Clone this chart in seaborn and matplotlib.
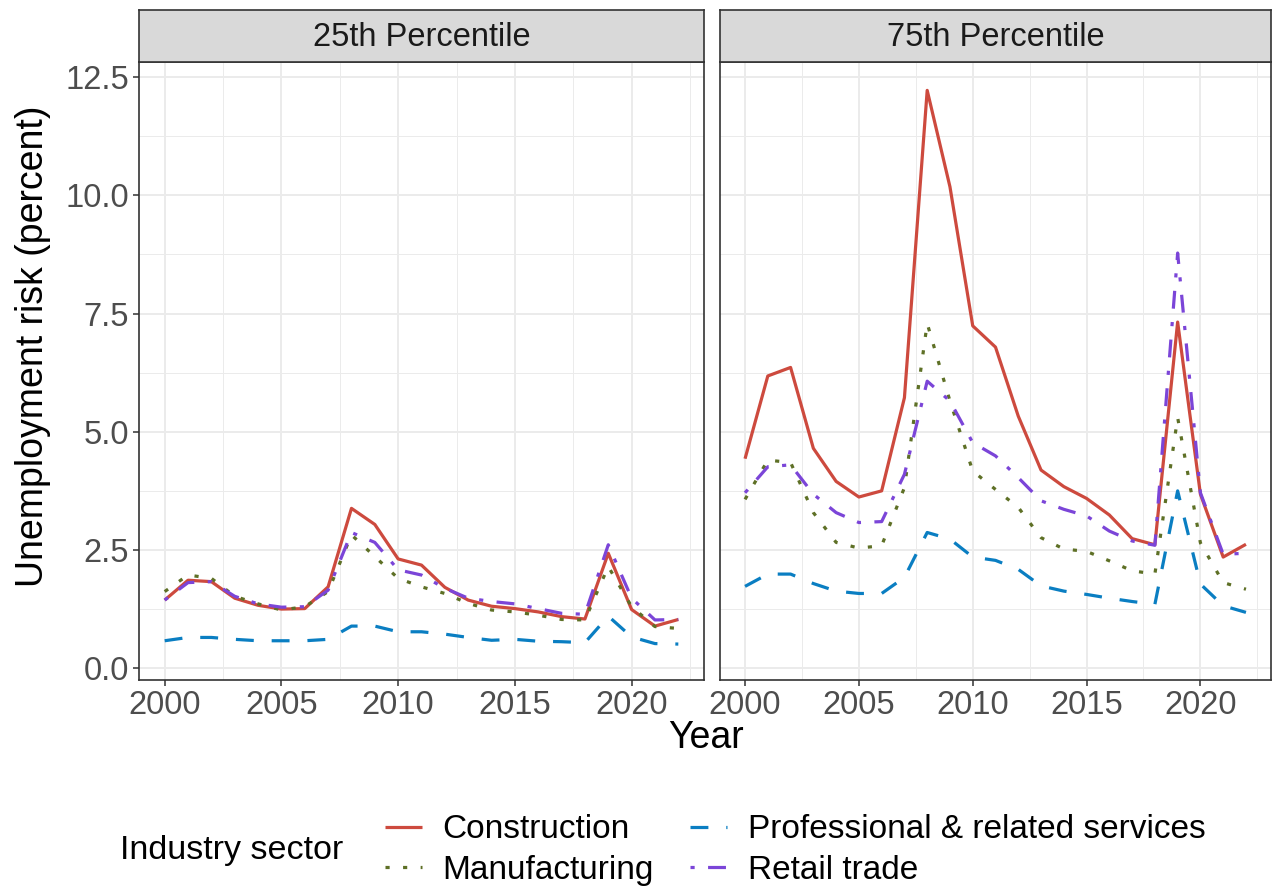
import matplotlib
matplotlib.use("Agg")
import matplotlib.pyplot as plt
from matplotlib.lines import Line2D
from matplotlib.ticker import MultipleLocator, FuncFormatter
import seaborn as sns
import pandas as pd
import numpy as np

years = list(range(2000, 2023))
sectors = ["Construction", "Manufacturing", "Professional & related services", "Retail trade"]
panels = ["25th Percentile", "75th Percentile"]

construction25 = [1.44, 1.86, 1.83, 1.48, 1.33, 1.25, 1.26, 1.72, 3.38, 3.04, 2.31, 2.18, 1.71, 1.44, 1.31, 1.26, 1.19, 1.09, 1.04, 2.43, 1.24, 0.89, 1.03]
manufacturing25 = [1.62, 1.97, 1.90, 1.52, 1.36, 1.23, 1.30, 1.62, 2.82, 2.36, 1.90, 1.72, 1.58, 1.37, 1.23, 1.19, 1.12, 1.03, 1.02, 2.15, 1.30, 0.88, 0.84]
professional25 = [0.58, 0.65, 0.65, 0.61, 0.58, 0.58, 0.58, 0.61, 0.89, 0.89, 0.77, 0.77, 0.72, 0.65, 0.59, 0.61, 0.57, 0.56, 0.54, 1.10, 0.66, 0.52, 0.51]
retail25 = [1.44, 1.81, 1.83, 1.52, 1.36, 1.29, 1.30, 1.65, 2.87, 2.66, 2.08, 1.97, 1.69, 1.48, 1.41, 1.36, 1.26, 1.16, 1.14, 2.61, 1.48, 1.02, 1.03]

construction75 = [4.43, 6.18, 6.36, 4.65, 3.95, 3.62, 3.75, 5.72, 12.22, 10.18, 7.24, 6.79, 5.33, 4.19, 3.84, 3.59, 3.24, 2.74, 2.61, 7.32, 3.68, 2.35, 2.62]
manufacturing75 = [3.57, 4.40, 4.35, 3.29, 2.66, 2.54, 2.59, 3.82, 7.29, 5.65, 4.17, 3.78, 3.40, 2.76, 2.52, 2.47, 2.27, 2.06, 1.99, 5.30, 2.65, 1.81, 1.67]
professional75 = [1.73, 1.99, 1.99, 1.79, 1.63, 1.58, 1.58, 1.92, 2.87, 2.73, 2.35, 2.28, 2.09, 1.74, 1.63, 1.56, 1.48, 1.41, 1.35, 3.75, 1.78, 1.32, 1.18]
retail75 = [3.71, 4.26, 4.30, 3.68, 3.29, 3.08, 3.10, 4.10, 6.07, 5.65, 4.77, 4.49, 4.03, 3.54, 3.36, 3.22, 2.90, 2.69, 2.60, 8.78, 3.71, 2.41, 2.43]

series = {
    ("25th Percentile", "Construction"): construction25,
    ("25th Percentile", "Manufacturing"): manufacturing25,
    ("25th Percentile", "Professional & related services"): professional25,
    ("25th Percentile", "Retail trade"): retail25,
    ("75th Percentile", "Construction"): construction75,
    ("75th Percentile", "Manufacturing"): manufacturing75,
    ("75th Percentile", "Professional & related services"): professional75,
    ("75th Percentile", "Retail trade"): retail75,
}
rows = []
for (p, s), vals in series.items():
    for y, v in zip(years, vals):
        rows.append({"panel": p, "sector": s, "Year": y, "value": v})
df = pd.DataFrame(rows)

palette = {
    "Construction": "#CD4A3E",
    "Manufacturing": "#5E7026",
    "Professional & related services": "#0A7EC2",
    "Retail trade": "#7B45D8",
}
dashes = {
    "Construction": "",
    "Manufacturing": (1.3, 4.2),
    "Professional & related services": (5.6, 5.6),
    "Retail trade": (1.3, 4.2, 5.6, 4.2),
}

sns.set_style("white")
plt.rcParams["font.family"] = ["Liberation Sans", "DejaVu Sans"]
plt.rcParams["text.color"] = "black"

W, H = 1274, 886
fig = plt.figure(figsize=(W / 100, H / 100), dpi=100)

LW = 2.3
panel_top, panel_bot = 62, 680
strip_top = 10
lefts = [(139, 704), (720, 1271)]
axes = []
for i, (p, (x0, x1)) in enumerate(zip(panels, lefts)):
    ax = fig.add_axes([x0 / W, 1 - panel_bot / H, (x1 - x0) / W, (panel_bot - panel_top) / H])
    sub = df[df.panel == p]
    sns.lineplot(data=sub, x="Year", y="value", hue="sector", style="sector",
                 palette=palette, dashes=dashes, hue_order=sectors, style_order=sectors,
                 linewidth=LW, ax=ax, legend=False, estimator=None)
    for ln in ax.get_lines():
        ln.set_dash_capstyle("butt")
        ln.set_solid_capstyle("butt")
        ln.set_solid_joinstyle("round")
    ax.set_xlim(1998.9, 2023.1)
    ax.set_ylim(-0.25, 12.82)
    ax.xaxis.set_major_locator(MultipleLocator(5))
    ax.xaxis.set_minor_locator(MultipleLocator(2.5))
    ax.yaxis.set_major_locator(MultipleLocator(2.5))
    ax.yaxis.set_minor_locator(MultipleLocator(1.25))
    ax.grid(which="major", color="#EBEBEB", linewidth=1.4)
    ax.grid(which="minor", color="#EBEBEB", linewidth=0.7)
    ax.set_axisbelow(True)
    for sp in ax.spines.values():
        sp.set_color("#333333")
        sp.set_linewidth(1.2)
    ax.tick_params(which="major", length=4.5, width=1.1, color="#333333",
                   labelsize=23.5, labelcolor="#4D4D4D", pad=2.5)
    ax.tick_params(which="minor", length=0)
    ax.tick_params(axis="x", bottom=True)
    ax.yaxis.set_major_formatter(FuncFormatter(lambda v, pos: f"{v:.1f}"))
    ax.set_xlabel("")
    ax.set_ylabel("")
    if i == 1:
        ax.tick_params(axis="y", left=False, labelleft=False)
    else:
        ax.tick_params(axis="y", left=True)
    # strip
    sax = fig.add_axes([x0 / W, 1 - panel_top / H, (x1 - x0) / W, (panel_top - strip_top) / H])
    sax.set_facecolor("#D9D9D9")
    sax.set_xticks([])
    sax.set_yticks([])
    for sp in sax.spines.values():
        sp.set_color("#333333")
        sp.set_linewidth(1.2)
    sax.text(0.5, 0.47, p, ha="center", va="center", fontsize=23.5, color="#1A1A1A",
             transform=sax.transAxes)
    axes.append(ax)

fig.text(706 / W, 1 - 738 / H, "Year", ha="center", va="center", fontsize=27, color="black")
fig.text(33 / W, 1 - 346 / H, "Unemployment risk (percent)", ha="center", va="center",
         rotation=90, fontsize=27, color="black")

handles = []
for s in sectors:
    h = Line2D([0], [0], color=palette[s], linewidth=LW, solid_capstyle="butt", dash_capstyle="butt")
    if dashes[s]:
        h.set_dashes(dashes[s])
    handles.append(h)
leg = fig.legend(handles, sectors, loc="center left", bbox_to_anchor=(385 / W, 1 - 850 / H),
                 ncol=2, frameon=False, fontsize=24, handlelength=1.1, handletextpad=0.62,
                 columnspacing=1.1, labelspacing=0.28, borderaxespad=0, borderpad=0,
                 labelcolor="black")
fig.text(120 / W, 1 - 850 / H, "Industry sector", ha="left", va="center", fontsize=24.5, color="black")

fig.savefig("out.png", dpi=100)
